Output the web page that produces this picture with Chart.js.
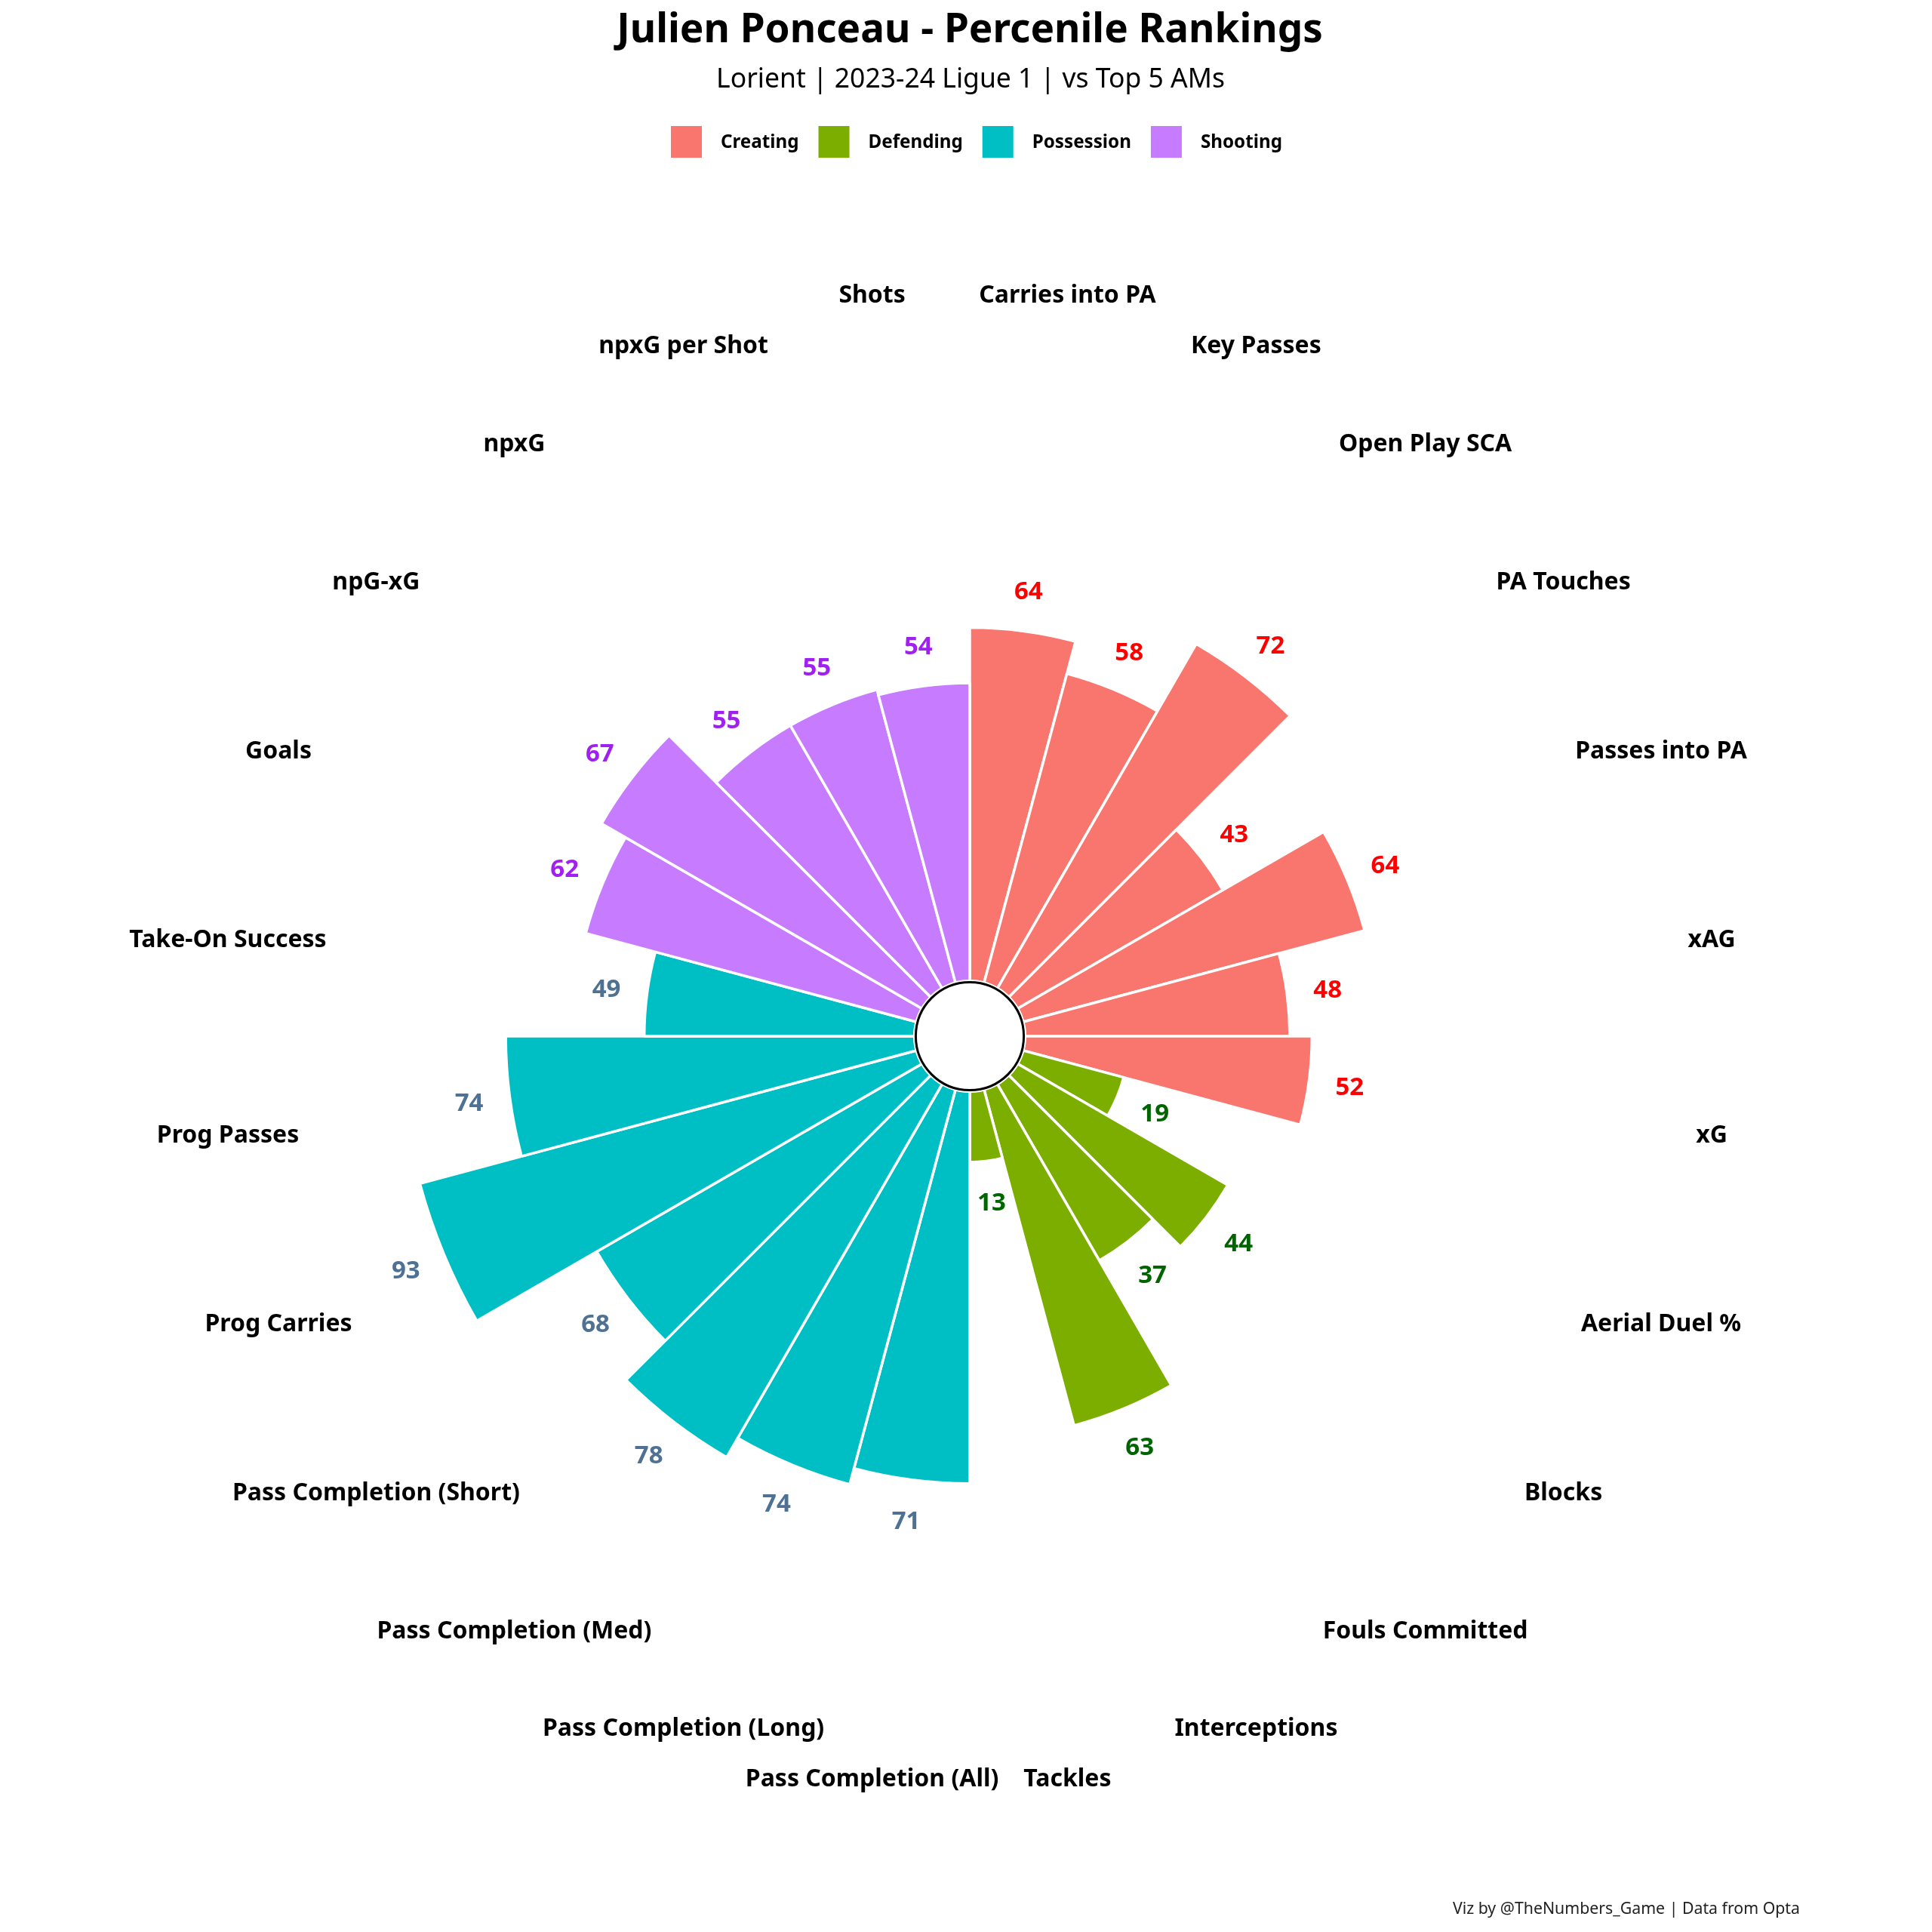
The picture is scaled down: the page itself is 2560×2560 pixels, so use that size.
<!DOCTYPE html>
<html>
<head>
<meta charset="utf-8">
<script src="https://cdn.jsdelivr.net/npm/chart.js@4.4.0/dist/chart.umd.min.js"></script>
<style>
html,body{margin:0;padding:0;background:#ffffff;}
#wrap{width:2560px;height:2560px;position:relative;}
canvas{display:block;}
</style>
</head>
<body>
<div id="wrap"><canvas id="c" width="2560" height="2560"></canvas></div>
<script>
// ---- data ----
const categories = [
  "Carries into PA","Key Passes","Open Play SCA","PA Touches","Passes into PA","xAG","xG",
  "Aerial Duel %","Blocks","Fouls Committed","Interceptions","Tackles",
  "Pass Completion (All)","Pass Completion (Long)","Pass Completion (Med)","Pass Completion (Short)",
  "Prog Carries","Prog Passes","Take-On Success",
  "Goals","npG-xG","npxG","npxG per Shot","Shots"
];
const values = [64,58,72,43,64,48,52, 19,44,37,63,13, 71,74,78,68,93,74,49, 62,67,55,55,54];
const groups = [
  "Creating","Creating","Creating","Creating","Creating","Creating","Creating",
  "Defending","Defending","Defending","Defending","Defending",
  "Possession","Possession","Possession","Possession","Possession","Possession","Possession",
  "Shooting","Shooting","Shooting","Shooting","Shooting"
];
const groupNames = ["Creating","Defending","Possession","Shooting"];
const groupColors = ["#F8766D","#7CAE00","#00BFC4","#C77CFF"];
const valueLabelColors = ["#FF0000","#006400","#4F7193","#A020F0"];
const titleText = "Julien Ponceau - Percenile Rankings";
const subtitleText = "Lorient | 2023-24 Ligue 1 | vs Top 5 AMs";
const captionText = "Viz by @TheNumbers_Game | Data from Opta";

const FONT = '"Noto Sans", "Open Sans", sans-serif';
const gi = i => groupNames.indexOf(groups[i]);

const decor = {
  id: 'decor',
  afterDatasetsDraw(chart) {
    const ctx = chart.ctx;
    const s = chart.scales.r;
    const cx = s.xCenter, cy = s.yCenter;
    const n = values.length;
    const step = 2 * Math.PI / n;
    // inner hole
    const r0 = s.getDistanceFromCenterForValue(0);
    ctx.save();
    ctx.beginPath();
    ctx.arc(cx, cy, r0 + 3.5, 0, 2 * Math.PI);
    ctx.fillStyle = '#ffffff';
    ctx.fill();
    ctx.beginPath();
    ctx.arc(cx, cy, r0, 0, 2 * Math.PI);
    ctx.lineWidth = 3;
    ctx.strokeStyle = '#000000';
    ctx.stroke();
    // value labels
    ctx.textAlign = 'center';
    ctx.textBaseline = 'alphabetic';
    const vfs = 33;
    ctx.font = 'bold ' + vfs + 'px ' + FONT;
    for (let i = 0; i < n; i++) {
      const a = -Math.PI / 2 + (i + 0.5) * step;
      const r = s.getDistanceFromCenterForValue(values[i] + 7.4);
      ctx.fillStyle = valueLabelColors[gi(i)];
      ctx.fillText(String(values[i]), cx + r * Math.cos(a), cy + r * Math.sin(a) + vfs * 0.357);
    }
    // category labels
    const cfs = 32;
    ctx.font = 'bold ' + cfs + 'px ' + FONT;
    ctx.fillStyle = '#000000';
    for (let i = 0; i < n; i++) {
      const a = -Math.PI / 2 + (i + 0.5) * step;
      const r = s.getDistanceFromCenterForValue(125.3);
      ctx.fillText(categories[i], cx + r * Math.cos(a), cy + r * Math.sin(a) + cfs * 0.357);
    }
    ctx.restore();
  },
  afterDraw(chart) {
    const ctx = chart.ctx;
    ctx.save();
    ctx.fillStyle = '#000000';
    ctx.textBaseline = 'alphabetic';
    ctx.textAlign = 'center';
    ctx.font = 'bold 53px ' + FONT;
    ctx.fillText(titleText, 1285, 56);
    ctx.font = '35.5px ' + FONT;
    ctx.fillText(subtitleText, 1286, 116);
    // legend
    ctx.font = 'bold 24.2px ' + FONT;
    ctx.textAlign = 'left';
    let x = 889;
    for (let k = 0; k < groupNames.length; k++) {
      ctx.fillStyle = groupColors[k];
      ctx.fillRect(x, 167, 41, 42);
      ctx.fillStyle = '#000000';
      ctx.fillText(groupNames[k], x + 66, 196);
      x += 66 + ctx.measureText(groupNames[k]).width + 26;
    }
    // caption
    ctx.font = '21.3px ' + FONT;
    ctx.textAlign = 'right';
    ctx.fillStyle = '#222222';
    ctx.fillText(captionText, 2385, 2536);
    ctx.restore();
  }
};

new Chart(document.getElementById('c'), {
  type: 'polarArea',
  data: {
    labels: categories,
    datasets: [{
      data: values,
      backgroundColor: values.map((v, i) => groupColors[gi(i)]),
      borderColor: '#ffffff',
      borderWidth: 3.5
    }]
  },
  options: {
    responsive: false,
    devicePixelRatio: 1,
    animation: false,
    layout: { padding: { left: 259, right: 249, top: 347, bottom: 161 } },
    plugins: { legend: { display: false }, tooltip: { enabled: false } },
    scales: {
      r: {
        min: -9.75, max: 130, beginAtZero: false,
        ticks: { display: false },
        grid: { display: false },
        angleLines: { display: false },
        pointLabels: { display: false }
      }
    }
  },
  plugins: [decor]
});
</script>
</body>
</html>
